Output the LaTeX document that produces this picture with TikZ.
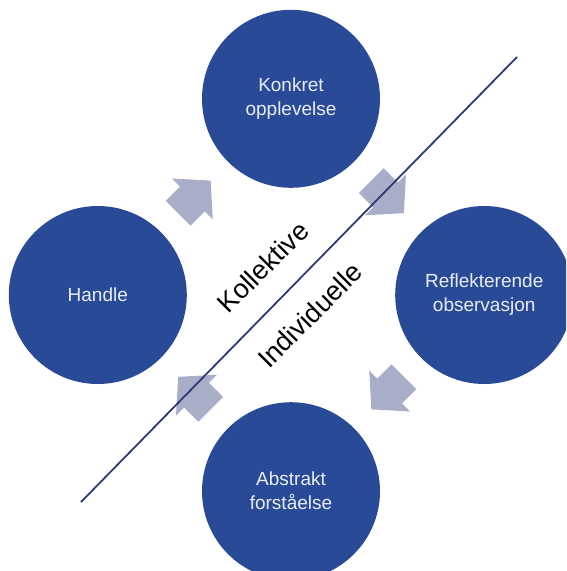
\documentclass[tikz,border=0pt]{standalone}
\usepackage{fontspec}
\setmainfont{Liberation Sans}
\usetikzlibrary{positioning, calc}
\definecolor{cycleblue}{HTML}{284A97}
\definecolor{cyclegrey}{HTML}{A8ADC8}
\definecolor{linenavy}{HTML}{2C3B78}
\definecolor{softwhite}{HTML}{E9EDF6}
\tikzstyle{stage} = [
    circle,
    minimum size=178pt,
    inner sep=0pt,
    align=center,
    text=softwhite,
    fill=cycleblue,
    font=\fontsize{19}{24}\selectfont
]
\tikzstyle{divider} = [
    draw=linenavy,
    line width=1.8pt
]
\tikzstyle{side} = [
    font=\fontsize{27}{32}\selectfont,
    inner sep=0pt
]
\tikzset{
    blockarrow/.pic={
        \fill[cyclegrey] (-23,-17.5) -- (-3,-17.5) -- (-3,-29) -- (23,0)
            -- (-3,29) -- (-3,17.5) -- (-23,17.5) -- cycle;
    }
}

\begin{document}
\begin{tikzpicture}[x=1pt, y=-1pt, node distance=104pt]
\useasboundingbox (0,0) rectangle (566,571);
\clip (0,0) rectangle (566,571);

\coordinate (mid) at (291,295);
\node (konkret)  [stage, above=107pt of mid] {Konkret\\opplevelse};
\node (handle)   [stage, left=of mid] {Handle};
\node (reflekt)  [stage, right=of mid] {Reflekterende\\observasjon};
\node (abstrakt) [stage, below=107pt of mid] {Abstrakt\\forståelse};

\coordinate (toKonkret)  at ($(handle)!0.5!(konkret)$);
\coordinate (toReflekt)  at ($(konkret)!0.5!(reflekt)$);
\coordinate (toAbstrakt) at ($(reflekt)!0.5!(abstrakt)$);
\coordinate (toHandle)   at ($(abstrakt)!0.5!(handle)$);
\pic[rotate=45]   at (toKonkret)  {blockarrow};
\pic[rotate=-45]  at (toReflekt)  {blockarrow};
\pic[rotate=-135] at (toAbstrakt) {blockarrow};
\pic[rotate=135]  at (toHandle)   {blockarrow};

\coordinate (westEnd) at (81,502);
\coordinate (eastEnd) at (517,57);
\draw[divider] (westEnd) -- (eastEnd);

\node (kollektive)   [side, rotate=45] at (263,267) {Kollektive};
\node (individuelle) [side, rotate=45] at (310,315) {Individuelle};

\end{tikzpicture}
\end{document}
